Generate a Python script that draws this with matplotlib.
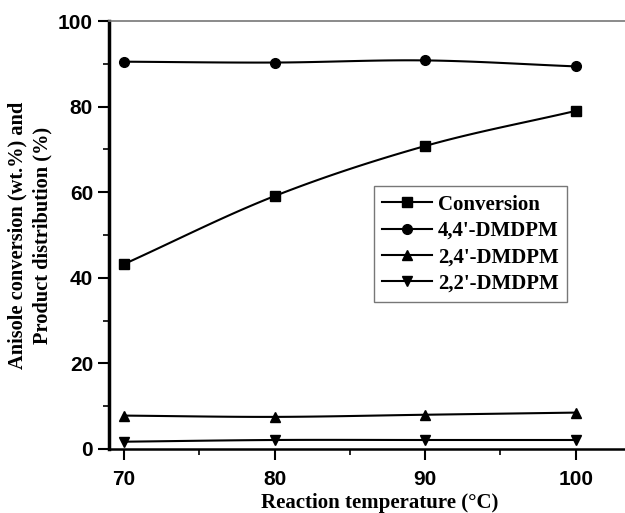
import numpy as np
import matplotlib
matplotlib.use('Agg')
import matplotlib.pyplot as plt
from matplotlib.ticker import MultipleLocator

# data
temps = [70, 80, 90, 100]
conversion = [43.2, 59.1, 70.8, 79.0]
dmdpm_44 = [90.5, 90.3, 90.8, 89.4]
dmdpm_24 = [7.8, 7.5, 8.0, 8.5]
dmdpm_22 = [1.7, 2.1, 2.1, 2.1]

labels = ["Conversion", "4,4'-DMDPM", "2,4'-DMDPM", "2,2'-DMDPM"]
markers = ['s', 'o', '^', 'v']


def smooth(x, y, n=30):
    # catmull-rom curve through the points, only for drawing the line
    x = np.asarray(x, float)
    y = np.asarray(y, float)
    px = np.concatenate([[2*x[0]-x[1]], x, [2*x[-1]-x[-2]]])
    py = np.concatenate([[2*y[0]-y[1]], y, [2*y[-1]-y[-2]]])
    xs, ys = [], []
    t = np.linspace(0, 1, n)
    for i in range(1, len(px)-2):
        for p, out in ((px, xs), (py, ys)):
            p0, p1, p2, p3 = p[i-1], p[i], p[i+1], p[i+2]
            out.extend(0.5*((2*p1) + (-p0+p2)*t + (2*p0-5*p1+4*p2-p3)*t**2
                            + (-p0+3*p1-3*p2+p3)*t**3))
    return xs, ys


fig = plt.figure(figsize=(6.25, 5.13), dpi=100)
# axes run past the right edge of the picture (cropped in the original)
ax = fig.add_axes([0.1744, 0.1248, 0.8672, 0.8342])

for ys, m, lab in zip([conversion, dmdpm_44, dmdpm_24, dmdpm_22], markers, labels):
    sx, sy = smooth(temps, ys)
    ax.plot(sx, sy, color='black', lw=1.5)
    ax.plot(temps, ys, linestyle='none', marker=m, color='black', ms=7)
    ax.plot([], [], color='black', lw=1.5, marker=m, ms=7, label=lab)

ax.set_xlim(69.0, 105.0)
ax.set_ylim(0, 100)
ax.set_xticks(temps)
ax.set_yticks([0, 20, 40, 60, 80, 100])
ax.xaxis.set_minor_locator(MultipleLocator(5))
ax.yaxis.set_minor_locator(MultipleLocator(10))

ax.spines['right'].set_visible(False)
ax.spines['top'].set_color('#777777')
ax.spines['top'].set_linewidth(1.2)
ax.spines['left'].set_linewidth(2.5)
ax.spines['bottom'].set_linewidth(1.8)

ax.tick_params(which='major', direction='out', length=8, width=1.5)
ax.tick_params(which='minor', direction='out', length=4, width=1.2)
ax.tick_params(axis='x', which='major', pad=7)
ax.tick_params(top=False, right=False, which='both')
for lbl in ax.get_xticklabels() + ax.get_yticklabels():
    lbl.set_fontfamily('Liberation Sans')
    lbl.set_fontweight('bold')
    lbl.set_fontsize(15)

ax.set_xlabel('Reaction temperature (\u00b0C)', family='Liberation Serif',
              fontweight='bold', fontsize=15, labelpad=3)
ax.set_ylabel('Anisole conversion (wt.%) and\nProduct distribution (%)',
              family='Liberation Serif', fontweight='bold', fontsize=14.7,
              labelpad=4, linespacing=1.3)

leg = ax.legend(loc='upper left', bbox_to_anchor=(0.469, 0.638),
                prop={'family': 'Liberation Serif', 'weight': 'bold', 'size': 15},
                frameon=True, fancybox=False, edgecolor='#555555',
                handlelength=2.4, handletextpad=0.3, borderpad=0.4,
                labelspacing=0.3)
leg.get_frame().set_linewidth(1.0)

plt.savefig('out.png', dpi=100)
